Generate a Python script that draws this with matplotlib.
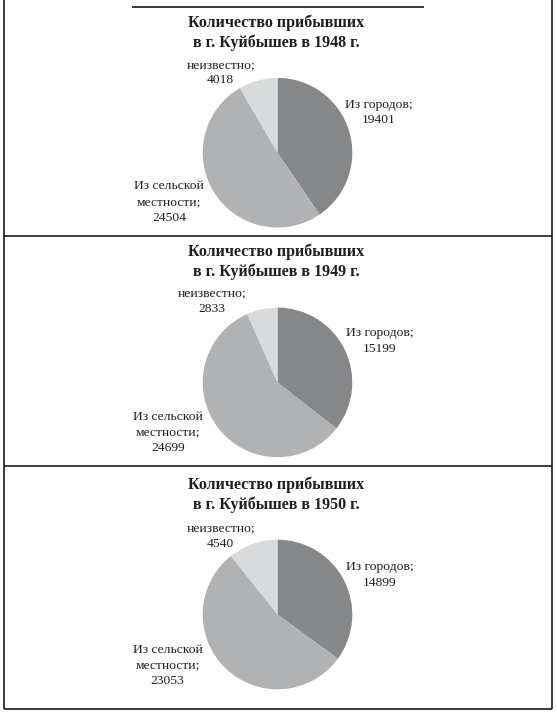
import matplotlib
matplotlib.use("Agg")
import matplotlib.pyplot as plt
from matplotlib.lines import Line2D

# ---- data ----
years = [1948, 1949, 1950]
cities = [19401, 15199, 14899]
rural = [24504, 24699, 23053]
unknown = [4018, 2833, 4540]
title_tmpl = "Количество прибывших\nв г. Куйбышев в {} г."
lbl_cities = "Из городов;"
lbl_rural = "Из сельской\nместности;"
lbl_unknown = "неизвестно;"

# ---- style / layout ----
colors = ["#868789", "#b1b2b4", "#d9dadc"]
W, H = 557, 717
DPI = 100
pie_cx = 277.5
pie_cy = [152.7, 382.4, 614.5]
pie_r = 74.8
title_y = [32.5, 261.5, 494.5]
label_pos = [
    {"c": (1.35, 0.54), "u": (-0.76, 1.07), "r": (-1.45, -0.66)},
    {"c": (1.37, 0.55), "u": (-0.88, 1.09), "r": (-1.46, -0.67)},
    {"c": (1.37, 0.53), "u": (-0.76, 1.05), "r": (-1.47, -0.68)},
]

plt.rcParams['font.family'] = ['Liberation Serif', 'DejaVu Serif']

fig = plt.figure(figsize=(W / DPI, H / DPI), dpi=DPI)
fig.patch.set_facecolor("white")

def fx(px):
    return px / W

def fy(py):
    return 1 - py / H

LS = 1.4
for i, yr in enumerate(years):
    vals = [cities[i], rural[i], unknown[i]]
    ax = fig.add_axes([fx(pie_cx - pie_r), fy(pie_cy[i] + pie_r),
                       2 * pie_r / W, 2 * pie_r / H])
    ax.pie(vals, colors=colors, startangle=90, counterclock=False,
           radius=1, wedgeprops=dict(linewidth=0, edgecolor="none"))
    ax.set_xlim(-1, 1)
    ax.set_ylim(-1, 1)
    ax.set_aspect("auto")
    ax.axis("off")
    lp = label_pos[i]
    ax.text(*lp["c"], f"{lbl_cities}\n{cities[i]}", ha="center", va="center",
            fontsize=9.7, color="#1e1e1e", linespacing=LS, clip_on=False)
    ax.text(*lp["u"], f"{lbl_unknown}\n{unknown[i]}", ha="center", va="center",
            fontsize=9.7, color="#1e1e1e", linespacing=LS, clip_on=False)
    ax.text(*lp["r"], f"{lbl_rural}\n{rural[i]}", ha="center", va="center",
            fontsize=9.7, color="#1e1e1e", linespacing=LS, clip_on=False)
    fig.text(fx(276), fy(title_y[i]), title_tmpl.format(yr), ha="center",
             va="center", fontsize=11.5, fontweight="bold", color="#1e1e1e",
             linespacing=1.25)

lw = 1.2
lc = "#1a1a1a"
lines = [
    ((4.3, 4.3), (0, 709.3)),
    ((551.5, 551.5), (0, 709.3)),
    ((4.3, 551.5), (709.3, 709.3)),
    ((4.3, 551.5), (236, 236)),
    ((4.3, 551.5), (466, 466)),
    ((132, 424), (6.5, 6.5)),
]
for xs, ys in lines:
    fig.add_artist(Line2D([fx(x) for x in xs], [fy(y) for y in ys],
                          color=lc, linewidth=lw, solid_capstyle="butt"))

fig.savefig("out.png", dpi=DPI, facecolor="white")
